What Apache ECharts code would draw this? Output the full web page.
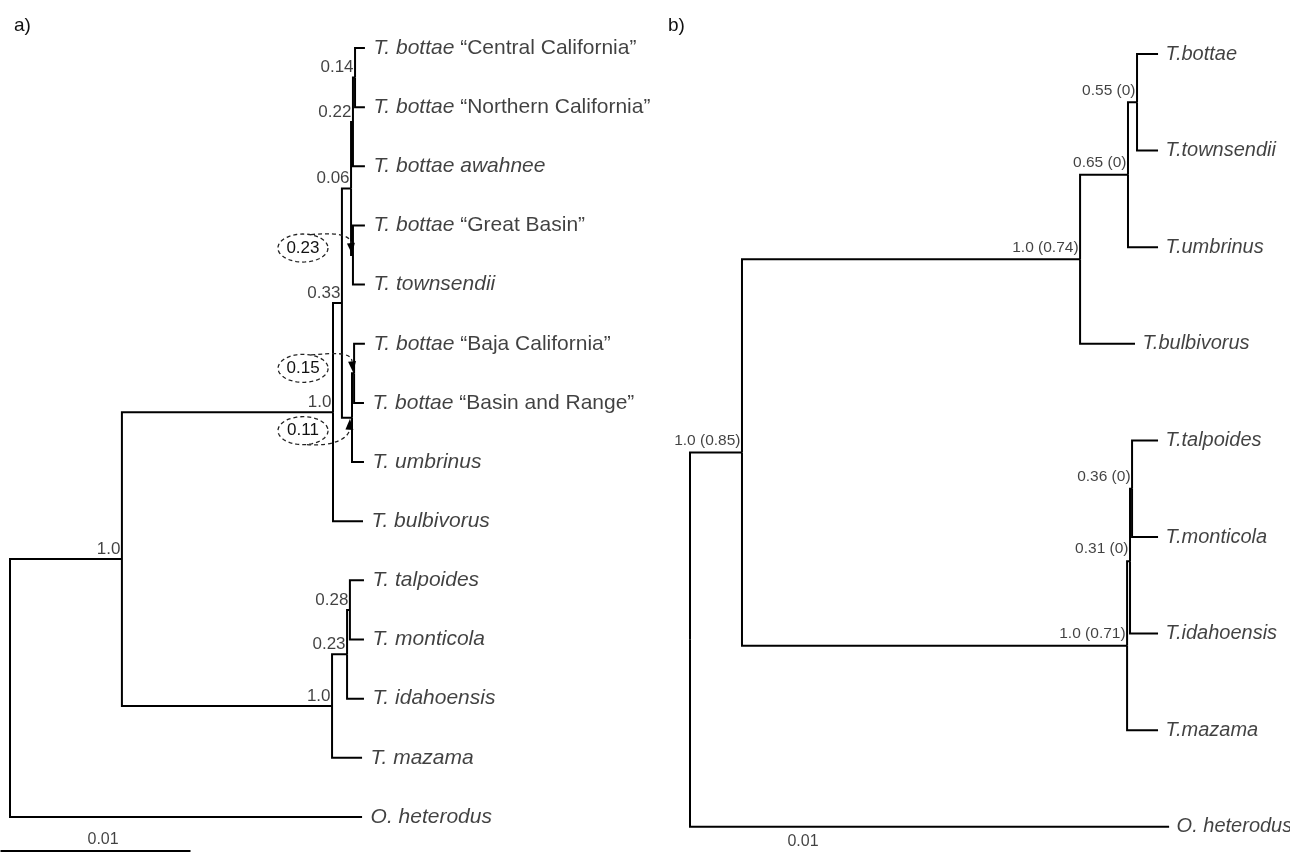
<!DOCTYPE html>
<html><head><meta charset="utf-8">
<script src="https://cdn.jsdelivr.net/npm/echarts@6/dist/echarts.min.js"></script>
<style>html,body{margin:0;padding:0;background:#fff}#c{width:1290px;height:854px}</style>
</head><body><div id="c"></div>
<script>
// ---------- Panel a) : depths in units of 0.001 substitutions/site ----------
const leavesA = [
  'T. bottae “Central California”',
  'T. bottae “Northern California”',
  'T. bottae awahnee',
  'T. bottae “Great Basin”',
  'T. townsendii',
  'T. bottae “Baja California”',
  'T. bottae “Basin and Range”',
  'T. umbrinus',
  'T. bulbivorus',
  'T. talpoides',
  'T. monticola',
  'T. idahoensis',
  'T. mazama',
  'O. heterodus'];
const leafTipA = [18.68,18.68,18.68,18.68,18.68,18.68,18.63,18.63,18.58,18.63,18.63,18.63,18.53,18.53];
const nodeKidsA = [['L0','L1'],['N0','L2'],['L3','L4'],['N1','N2'],['L5','L6'],['N4','L7'],
                   ['N3','N5'],['N6','L8'],['L9','L10'],['N8','L11'],['N9','L12'],['N7','N10'],['N11','L13']];
const nodeDepthA = [18.16,18.05,18.05,17.95,18.11,18.0,17.47,17.0,17.89,17.74,16.95,5.89,0];
const nodeSupportA = ['0.14','0.22','0.23','0.06','0.15','0.11','0.33','1.0','0.28','0.23','1.0','1.0',''];
const nodeBoxedA = [0,0,1,0,1,1,0,0,0,0,0,0,0];
const scaleBarA = {start: -0.5, length: 10, label: '0.01'};

// ---------- Panel b) ----------
const leavesB = ['T.bottae','T.townsendii','T.umbrinus','T.bulbivorus','T.talpoides',
                 'T.monticola','T.idahoensis','T.mazama','O. heterodus'];
const leafTipB = [20.71,20.71,20.71,19.69,20.71,20.71,20.71,20.71,21.2];
const nodeKidsB = [['L0','L1'],['N0','L2'],['N1','L3'],['L4','L5'],['N3','L6'],['N4','L7'],['N2','N5'],['N6','L8']];
const nodeDepthB = [19.78,19.38,17.26,19.56,19.47,19.34,2.30,0];
const nodeSupportB = ['0.55 (0)','0.65 (0)','1.0 (0.74)','0.36 (0)','0.31 (0)','1.0 (0.71)','1.0 (0.85)',''];
const scaleLabelB = {center: 5, label: '0.01'};

// ---------- build ----------
function buildTree(tips, kids, depths) {
  const yMemo = {};
  function yOf(ref) {
    if (yMemo[ref] !== undefined) return yMemo[ref];
    const idx = +ref.slice(1);
    let y;
    if (ref[0] === 'L') y = idx;
    else { const k = kids[idx]; y = (yOf(k[0]) + yOf(k[k.length - 1])) / 2; }
    yMemo[ref] = y; return y;
  }
  function xOf(ref) { const idx = +ref.slice(1); return ref[0] === 'L' ? tips[idx] : depths[idx]; }
  const segs = [];
  const nodes = [];
  kids.forEach((k, i) => {
    const nx = depths[i], ny = yOf('N' + i);
    nodes.push([nx, ny]);
    k.forEach(c => {
      const cy = yOf(c);
      segs.push({coords: [[nx, ny], [nx, cy], [xOf(c), cy]]});
    });
  });
  return {segs, nodes};
}
const treeA = buildTree(leafTipA, nodeKidsA, nodeDepthA);
const treeB = buildTree(leafTipB, nodeKidsB, nodeDepthB);

const FONT = 'Liberation Sans, Arial, Helvetica, sans-serif';
const INK = '#111';

function leafFormatter(p) {
  const n = p.name;
  const q = n.indexOf('“');
  if (q > 0) return '{i|' + n.slice(0, q) + '}{n|' + n.slice(q) + '}';
  return '{i|' + n + '}';
}
function leafRich(fs) {
  return {
    i: {fontStyle: 'italic', fontSize: fs, fontFamily: FONT, color: INK},
    n: {fontSize: fs, fontFamily: FONT, color: INK}
  };
}
function leafSeries(leaves, tips, ax, fs, dist) {
  return {
    type: 'scatter', xAxisIndex: ax, yAxisIndex: ax, symbolSize: 1, clip: false,
    itemStyle: {color: 'rgba(0,0,0,0)'}, silent: true,
    data: leaves.map((n, i) => ({name: n, value: [tips[i], i]})),
    label: {show: true, position: 'right', distance: dist, formatter: leafFormatter, rich: leafRich(fs)}
  };
}
function supportSeries(tree, support, boxed, ax, fs, dy) {
  const data = [];
  tree.nodes.forEach((p, i) => {
    if (support[i] && !(boxed && boxed[i])) data.push({name: support[i], value: p});
  });
  return {
    type: 'scatter', xAxisIndex: ax, yAxisIndex: ax, symbolSize: 1, clip: false,
    itemStyle: {color: 'rgba(0,0,0,0)'}, silent: true, data,
    label: {show: true, position: 'left', distance: 1, offset: [0, dy], formatter: '{b}',
            fontSize: fs, fontFamily: FONT, color: INK}
  };
}

// dashed-ellipse annotation styling (pixel offsets from the node)
const boxStyle = {
  2: {dx: -50, dy: -7, dir: 'down'},
  4: {dx: -51, dy: -5, dir: 'down'},
  5: {dx: -49, dy: 13, dir: 'up'}
};
const boxData = [];
nodeBoxedA.forEach((b, i) => { if (b) boxData.push({name: nodeSupportA[i], value: [treeA.nodes[i][0], treeA.nodes[i][1], i]}); });

function boxRender(params, api) {
  const d = boxData[params.dataIndex];
  const p = api.coord([api.value(0), api.value(1)]);
  const st = boxStyle[api.value(2)];
  const nx = p[0], ny = p[1];
  const cx = nx + st.dx, cy = ny + st.dy, rx = 25, ry = 14;
  const pts = [];
  for (let k = 0; k <= 72; k++) { const t = k / 72 * Math.PI * 2; pts.push([cx + rx * Math.cos(t), cy + ry * Math.sin(t)]); }
  let c;
  if (st.dir === 'down') {
    c = {x1: cx + 8, y1: cy - ry + 0.5, cpx1: nx - 22, cpy1: cy - ry - 1, cpx2: nx - 3, cpy2: ny - 22, x2: nx - 1, y2: ny - 1};
  } else {
    c = {x1: cx + 4, y1: cy + ry, cpx1: nx - 18, cpy1: cy + ry + 2, cpx2: nx - 3, cpy2: ny + 20, x2: nx - 2, y2: ny + 1};
  }
  const tx = c.x2 - c.cpx2, ty = c.y2 - c.cpy2, L = Math.hypot(tx, ty);
  const ux = tx / L, uy = ty / L, len = 11, w = 4;
  const bx = c.x2 - ux * len, by = c.y2 - uy * len;
  const head = [[c.x2, c.y2], [bx - uy * w, by + ux * w], [bx + uy * w, by - ux * w]];
  const dashStyle = {stroke: '#222', lineWidth: 1.3, lineDash: [4, 3], fill: null};
  return {type: 'group', children: [
    {type: 'polyline', shape: {points: pts}, style: dashStyle},
    {type: 'bezierCurve', shape: {x1: c.x1, y1: c.y1, cpx1: c.cpx1, cpy1: c.cpy1, cpx2: c.cpx2, cpy2: c.cpy2, x2: bx, y2: by}, style: dashStyle},
    {type: 'polygon', shape: {points: head}, style: {fill: '#000'}},
    {type: 'text', style: {text: d.name, x: cx, y: cy, align: 'center', verticalAlign: 'middle', textAlign: 'center', textVerticalAlign: 'middle',
      fontSize: 17, fontFamily: FONT, fill: INK}}
  ]};
}

const PXA = 19, PXB = 22.6, ROWA = 59.15, ROWB = 96.6;
const chart = echarts.init(document.getElementById('c'), null, {renderer: 'canvas'});
const lineStyle = {color: '#000', width: 2, opacity: 1, curveness: 0};
chart.setOption({
  animation: false,
  backgroundColor: '#fff',
  title: [
    {text: 'a)', left: 9, top: 11, textStyle: {fontSize: 19, fontWeight: 'normal', fontFamily: FONT, color: INK}},
    {text: 'b)', left: 663, top: 11, textStyle: {fontSize: 19, fontWeight: 'normal', fontFamily: FONT, color: INK}}
  ],
  grid: [
    {left: 0.5, top: 48, width: 20.5 * PXA, height: 13.6 * ROWA},
    {left: 690, top: 54, width: 23 * PXB, height: 8.25 * ROWB}
  ],
  xAxis: [
    {type: 'value', gridIndex: 0, min: -0.5, max: 20, show: false},
    {type: 'value', gridIndex: 1, min: 0, max: 23, show: false}
  ],
  yAxis: [
    {type: 'value', gridIndex: 0, min: 0, max: 13.6, inverse: true, show: false},
    {type: 'value', gridIndex: 1, min: 0, max: 8.25, inverse: true, show: false}
  ],
  series: [
    {type: 'lines', coordinateSystem: 'cartesian2d', xAxisIndex: 0, yAxisIndex: 0, polyline: true, silent: true, clip: false,
     lineStyle, data: treeA.segs.concat([{coords: [[scaleBarA.start, 13.575], [scaleBarA.start + scaleBarA.length, 13.575]]}])},
    leafSeries(leavesA, leafTipA, 0, 21, 8),
    supportSeries(treeA, nodeSupportA, nodeBoxedA, 0, 17, -10),
    {type: 'custom', xAxisIndex: 0, yAxisIndex: 0, silent: true, clip: false, renderItem: boxRender, data: boxData},
    {type: 'scatter', xAxisIndex: 0, yAxisIndex: 0, symbolSize: 1, clip: false, silent: true, itemStyle: {color: 'rgba(0,0,0,0)'},
     data: [{name: scaleBarA.label, value: [scaleBarA.start + scaleBarA.length / 2 + 0.4, 13.575]}],
     label: {show: true, position: 'top', distance: 3, formatter: '{b}', fontSize: 16, fontFamily: FONT, color: INK}},

    {type: 'lines', coordinateSystem: 'cartesian2d', xAxisIndex: 1, yAxisIndex: 1, polyline: true, silent: true, clip: false,
     lineStyle, data: treeB.segs},
    leafSeries(leavesB, leafTipB, 1, 20, 7),
    supportSeries(treeB, nodeSupportB, null, 1, 15.5, -12),
    {type: 'scatter', xAxisIndex: 1, yAxisIndex: 1, symbolSize: 1, clip: false, silent: true, itemStyle: {color: 'rgba(0,0,0,0)'},
     data: [{name: scaleLabelB.label, value: [scaleLabelB.center, 8]}],
     label: {show: true, position: 'bottom', distance: 6, formatter: '{b}', fontSize: 16, fontFamily: FONT, color: INK}}
  ]
});
</script></body></html>
